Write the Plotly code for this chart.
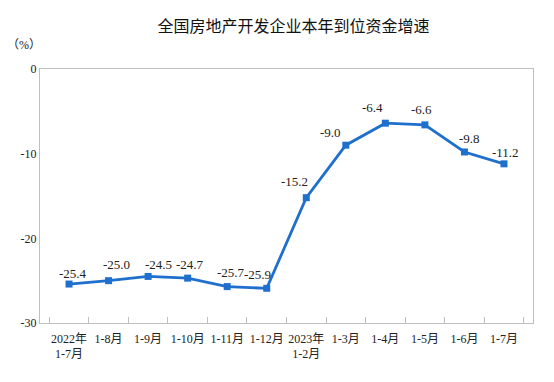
import plotly.graph_objects as go

categories = ["2022年<br>1-7月", "1-8月", "1-9月", "1-10月", "1-11月", "1-12月",
              "2023年<br>1-2月", "1-3月", "1-4月", "1-5月", "1-6月", "1-7月"]
values = [-25.4, -25.0, -24.5, -24.7, -25.7, -25.9, -15.2, -9.0, -6.4, -6.6, -9.8, -11.2]
labels = [f"{v:.1f}" for v in values]
y_ticks = [0, -10, -20, -30]

# label placement offsets (pixels), styling only
label_dx = [4, 8, 10, 2, 4, -9, -12, -15, -13, -3, 5, 2]
label_dy = [11, 16, 12, 14, 14, 14, 16, 13, 16, 15, 13, 11]

serif = "'Liberation Serif', 'Times New Roman', 'Noto Sans CJK SC', serif"
color = "#1f6fcc"

# page body has an 8px default margin; figure is sized to fit the 554x382 window
W, H = 546, 374
L, T, R, B = 32, 61, 21, 59
PW, PH = W - L - R, H - T - B

fig = go.Figure()
fig.add_trace(go.Scatter(
    x=categories, y=values, mode="lines+markers",
    line=dict(color=color, width=2.8),
    marker=dict(symbol="square", size=7, color=color),
    cliponaxis=False, showlegend=False, hoverinfo="x+y",
))

annotations = [dict(x=c, y=v, text=t, xref="x", yref="y", showarrow=False,
                    xshift=dx, yshift=dy, xanchor="center", yanchor="middle",
                    font=dict(family=serif, size=13, color="#222222"))
               for c, v, t, dx, dy in zip(categories, values, labels, label_dx, label_dy)]
annotations.append(dict(text="（%）", xref="paper", yref="paper",
                        x=(16 - L) / PW, y=(H - B - 37) / PH, xanchor="center", yanchor="middle",
                        showarrow=False,
                        font=dict(family=serif, size=12, color="#222222")))

fig.update_layout(
    width=W, height=H,
    margin=dict(l=L, r=R, t=T, b=B, autoexpand=False),
    paper_bgcolor="white", plot_bgcolor="white",
    title=dict(text="全国房地产开发企业本年到位资金增速",
               x=(285.5 - L) / PW, xref="paper", xanchor="center",
               y=1 - 18 / H, yref="container", yanchor="middle",
               font=dict(family="'Noto Sans CJK SC'", size=16, color="#111111")),
    annotations=annotations,
)
fig.update_xaxes(
    type="category", showline=True, linecolor="#bfbfbf", linewidth=1.2, mirror=True,
    ticks="inside", tickson="boundaries", ticklen=6, tickcolor="#bfbfbf",
    showgrid=False, tickangle=0, automargin=False, ticklabelstandoff=4,
    tickfont=dict(family=serif, size=12, color="#222222"),
)
fig.update_yaxes(
    range=[-30, 0], tickvals=y_ticks, ticktext=[str(t) for t in y_ticks],
    showline=True, linecolor="#bfbfbf", linewidth=1.2, mirror=True,
    showgrid=False, zeroline=False, ticks="", automargin=False,
    tickfont=dict(family=serif, size=12, color="#222222"),
)

fig.write_html("out.html")
